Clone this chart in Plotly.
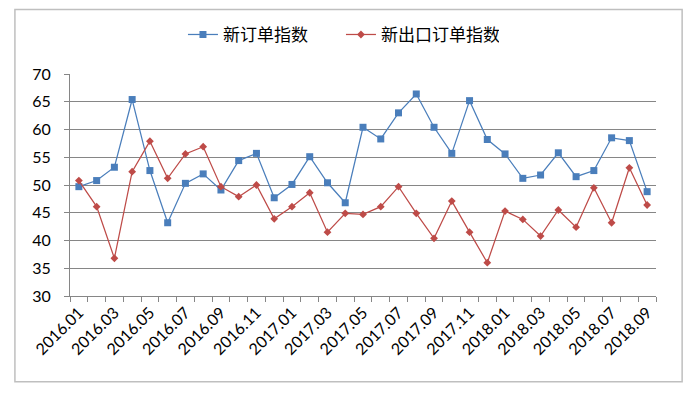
import plotly.graph_objects as go

months = ["2016.01","2016.02","2016.03","2016.04","2016.05","2016.06","2016.07","2016.08","2016.09","2016.10","2016.11","2016.12",
          "2017.01","2017.02","2017.03","2017.04","2017.05","2017.06","2017.07","2017.08","2017.09","2017.10","2017.11","2017.12",
          "2018.01","2018.02","2018.03","2018.04","2018.05","2018.06","2018.07","2018.08","2018.09"]
new_orders = [49.7, 50.8, 53.2, 65.4, 52.6, 43.2, 50.3, 52.0, 49.1, 54.4, 55.7, 47.7,
              50.1, 55.1, 50.4, 46.8, 60.4, 58.3, 63.0, 66.4, 60.4, 55.7, 65.2, 58.2,
              55.6, 51.2, 51.8, 55.8, 51.5, 52.6, 58.5, 58.0, 48.8]
new_export_orders = [50.8, 46.1, 36.8, 52.4, 57.9, 51.2, 55.6, 56.9, 49.7, 47.9, 50.0, 43.9,
                     46.1, 48.6, 41.5, 44.9, 44.7, 46.1, 49.7, 44.9, 40.4, 47.1, 41.5, 36.0,
                     45.3, 43.8, 40.8, 45.5, 42.4, 49.5, 43.2, 53.1, 46.4]
y_ticks = [30, 35, 40, 45, 50, 55, 60, 65, 70]

xs = list(range(len(months)))
label_idx = xs[::2]

font_family = "Lato, 'Noto Sans CJK SC', sans-serif"

fig = go.Figure()
fig.add_trace(go.Scatter(x=xs, y=new_orders, name="新订单指数", mode="lines+markers",
                         line=dict(color="#4A7EBB", width=1.25),
                         marker=dict(symbol="square", size=7, color="#4A7EBB")))
fig.add_trace(go.Scatter(x=xs, y=new_export_orders, name="新出口订单指数", mode="lines+markers",
                         line=dict(color="#BE4B48", width=1.25),
                         marker=dict(symbol="diamond", size=6, color="#BE4B48")))

# page body has an 8px margin, so the figure is 8px smaller and offset
fig.update_layout(
    width=687, height=390,
    margin=dict(l=62, r=39, t=66, b=102, autoexpand=False),
    paper_bgcolor="white", plot_bgcolor="white",
    font=dict(family=font_family, size=16, color="black"),
    showlegend=True,
    legend=dict(orientation="h", x=0.4624, xanchor="center", y=1.176, yanchor="middle",
                font=dict(family="'Noto Sans CJK SC', sans-serif", size=17),
                entrywidth=113, entrywidthmode="pixels",
                bgcolor="rgba(0,0,0,0)"),
    xaxis=dict(range=[-0.5, len(months) - 0.5], tickmode="array",
               tickvals=label_idx, ticktext=[months[i] for i in label_idx],
               tickangle=-45, ticks="", showgrid=False, zeroline=False,
               showline=True, linecolor="#868686", linewidth=1, automargin=False,
               tickfont=dict(size=16),
               minor=dict(tickmode="array", tickvals=[i - 0.5 for i in range(len(months) + 1)],
                          ticks="outside", ticklen=5, tickcolor="#868686", showgrid=False)),
    yaxis=dict(range=[30, 70], tickmode="array", tickvals=y_ticks,
               ticks="outside", ticklen=5, tickcolor="#868686", automargin=False,
               ticklabelstandoff=10,
               showgrid=True, gridcolor="#868686", gridwidth=1, zeroline=False,
               showline=True, linecolor="#868686", linewidth=1,
               tickfont=dict(size=16)),
    shapes=[dict(type="rect", xref="paper", yref="paper",
                 x0=-0.094, x1=1.0446, y0=-0.386, y1=1.291,
                 line=dict(color="#BFBFBF", width=1.5), fillcolor="rgba(0,0,0,0)", layer="below")],
)

fig.write_html("out.html")
